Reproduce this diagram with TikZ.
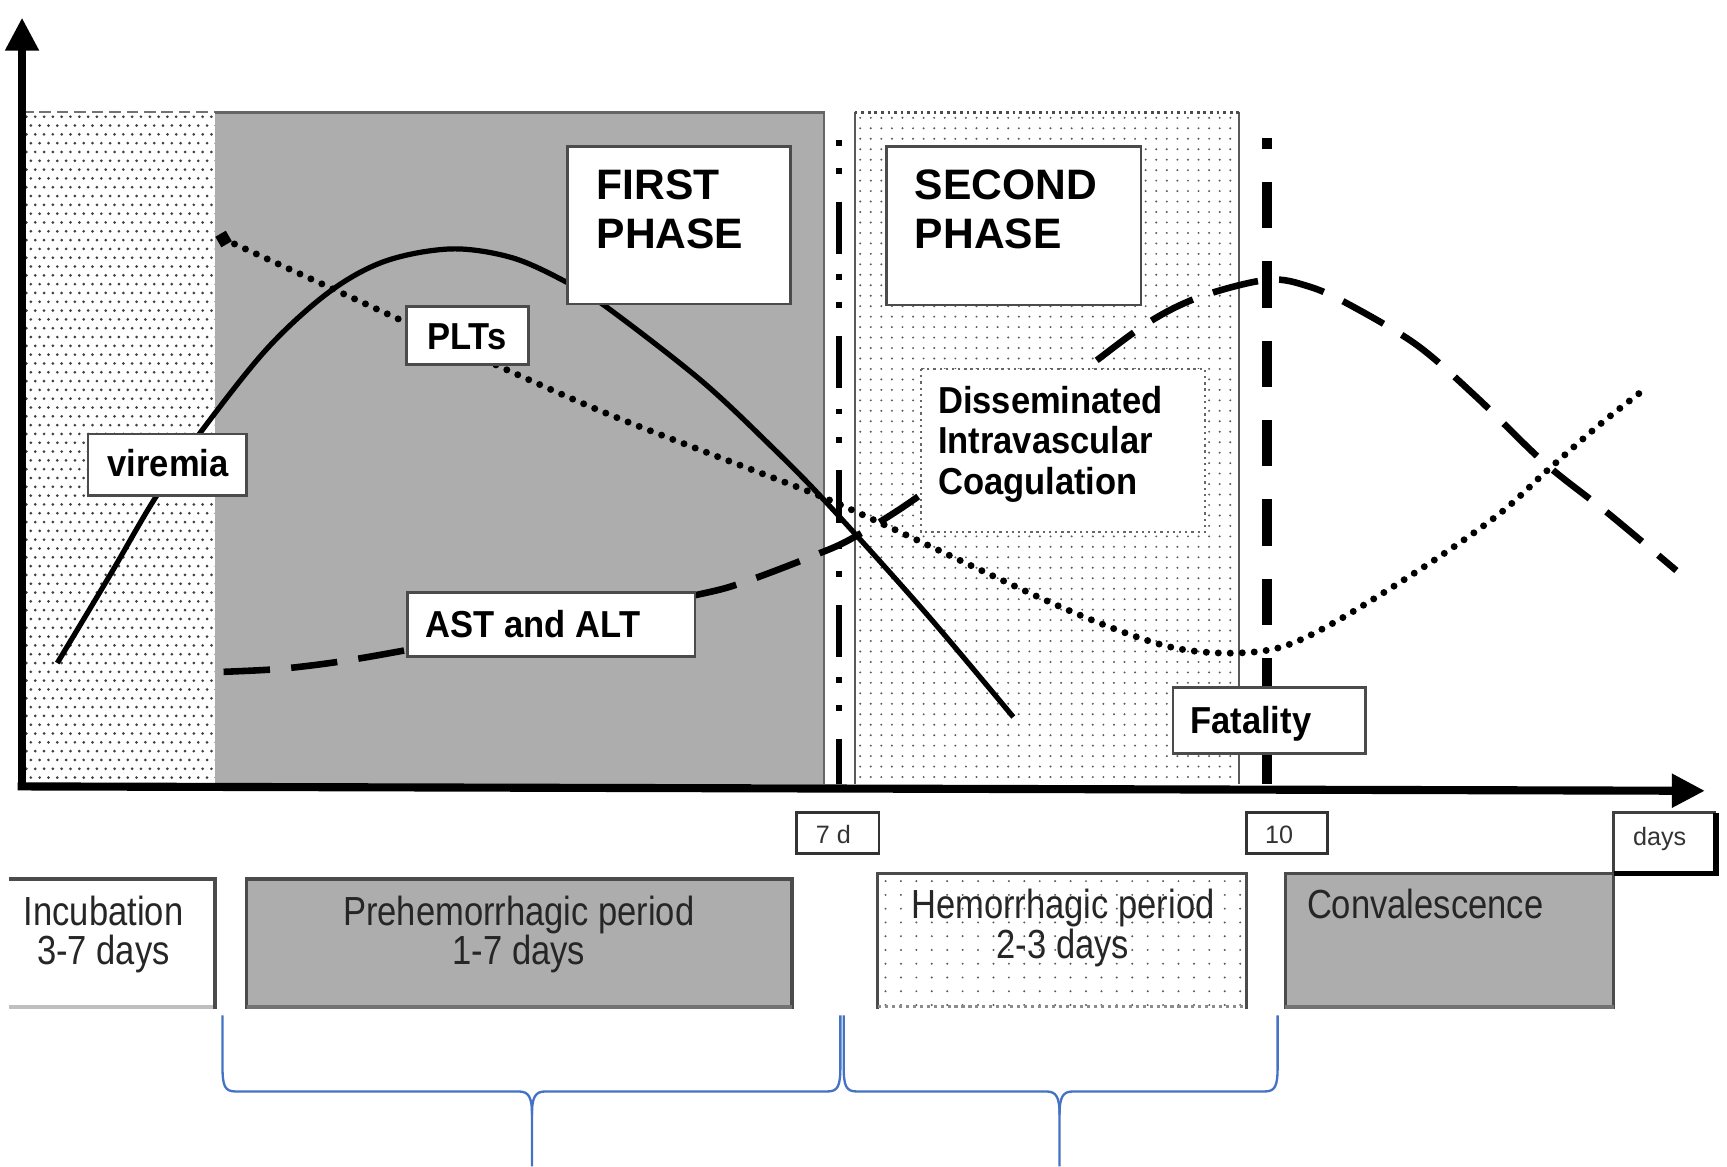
\documentclass[tikz,border=0pt]{standalone}
\usepackage{fontspec}
\setmainfont{Liberation Sans}
\newfontfamily\condfont[FakeStretch=0.85]{Liberation Sans}
\newfontfamily\labfont[FakeStretch=0.92]{Liberation Sans}
\usetikzlibrary{arrows.meta}
\definecolor{regiongray}{RGB}{173,173,173}
\definecolor{bracecol}{RGB}{68,114,196}
\definecolor{boxedge}{RGB}{75,75,75}
\begin{document}
\begin{tikzpicture}[x=0.1mm,y=-0.1mm,
  labelbox/.style={draw=boxedge, fill=white, line width=0.7pt},
  lab/.style={font={\labfont\bfseries\fontsize{9.7}{11}\selectfont}, inner sep=0pt, anchor=base west},
  phase/.style={font={\bfseries\fontsize{11}{13}\selectfont}, inner sep=0pt, anchor=base west},
  period/.style={font={\condfont\fontsize{10.5}{12}\selectfont}, inner sep=0pt, anchor=base, text=black!85},
  ticklab/.style={font={\fontsize{6.5}{8}\selectfont}, inner sep=0pt, anchor=base west, text=black!80},
  vircurve/.style={line width=1.35pt, line join=round},
  pltcurve/.style={line width=1.8pt, line cap=round, dash pattern=on 0pt off 3.1pt},
  astcurve/.style={line width=1.7pt, dash pattern=on 12pt off 5.5pt},
  axisline/.style={line width=2.1pt, -{Triangle[length=3mm,width=2.9mm]}},
  brace/.style={draw=bracecol, line width=0.6pt},
  incdot/.style={fill=black!75},
  secdot/.style={fill=black!65},
]
\useasboundingbox (0,0) rectangle (1568,1059);

% ---------- regions ----------
\fill[white] (20,102) rectangle (195,712);
\fill[incdot] \foreach \i in {0,...,21}{\foreach \j in {0,...,75}{ ({24+\i*8+mod(\j,2)*4},{106+\j*8}) circle (1.35) }};
\draw[black!55, line width=0.6pt, dash pattern=on 3pt off 1.5pt] (20,102) -- (195,102);

\fill[regiongray] (195,102) rectangle (748,712);
\draw[black!60, line width=0.7pt] (195,102) -- (748,102) -- (748,712);

\fill[white] (776,102) rectangle (1125,712);
\fill[secdot] \foreach \i in {0,...,35}{\foreach \j in {0,...,63}{ ({781+\i*9.6},{107+\j*9.5}) circle (1.0) }};
\draw[black!65, line width=0.5pt] (776,712) -- (776,102) (1125,102) -- (1125,712);
\draw[black!70, line width=0.7pt, densely dotted] (776,102) -- (1125,102);

% ---------- vertical markers ----------
\draw[line width=1.5pt, dash pattern=on 1.5pt off 5.8pt on 1.5pt off 7.2pt on 13.5pt off 5.2pt] (762,127) -- (762,712);
\draw[line width=2.6pt, dash pattern=on 12pt off 8.5pt, dash phase=9.1pt] (1150,125) -- (1150,712);

% ---------- curves ----------
\draw[vircurve] plot[smooth, tension=0.55] coordinates {(52,602) (100,522) (141,452) (184,390) (243,316) (299,265) (350,237) (410,226) (465,234) (514,256) (551,279) (636,345) (700,405) (751,457) (840,556) (920,651)};
\draw[pltcurve] plot[smooth, tension=0.55] coordinates {(203,217) (369,293) (443,328) (545,373) (650,414) (726,443) (760,457) (817,483) (947,544) (1020,574) (1070,589) (1119,593) (1165,587) (1217,562) (1300,510) (1362,466) (1405,427) (1453,385) (1495,352)};
\node[fill=black, inner sep=0pt, minimum size=1.1mm, rotate=30] (pltstart) at (203,217) {};
\draw[astcurve] plot[smooth, tension=0.55] coordinates {(203,610) (245,608) (276,605) (313,600) (365,591) (500,566) (633,540) (677,528) (740,504) (775,488) (832,452) (910,392) (988,333) (1044,292) (1091,269) (1151,254) (1188,260) (1224,276) (1286,313) (1340,360) (1402,420) (1460,466) (1522,518)};

% ---------- label boxes ----------
\draw[labelbox] (515,133) rectangle (718,276);
\draw[labelbox] (805,133) rectangle (1036,277);
\draw[labelbox] (369,278) rectangle (480,331);
\draw[labelbox] (80,394) rectangle (224,450);
\draw[labelbox] (370,538) rectangle (631,596);
\draw[fill=white, draw=black!60, line width=0.6pt, densely dotted] (836,335) rectangle (1094,483);
\draw[labelbox] (1065,624) rectangle (1240,684);

\node[phase] (first1) at (541,181) {FIRST};
\node[phase] (first2) at (541,226) {PHASE};
\node[phase] (second1) at (830,181) {SECOND};
\node[phase] (second2) at (830,226) {PHASE};
\node[lab] (plts) at (387,317) {PLTs};
\node[lab] (vir) at (97,433) {viremia};
\node[lab] (ast) at (386,579) {AST and ALT};
\node[lab] (dic1) at (851,375) {Disseminated};
\node[lab] (dic2) at (851,412) {Intravascular};
\node[lab] (dic3) at (851,449) {Coagulation};
\node[lab] (fat) at (1080,666) {Fatality};

% ---------- axes ----------
\coordinate (origin) at (16,714);
\coordinate (xend) at (1548,718);
\coordinate (ybot) at (20,716);
\coordinate (ytop) at (20,16);
\draw[axisline] (origin) -- (xend);
\draw[axisline] (ybot) -- (ytop);

% ---------- tick boxes ----------
\draw[labelbox, draw=black!80] (723,738) rectangle (798,775);
\draw[labelbox, draw=black!80] (1132,738) rectangle (1205,775);
\node[ticklab] (t7) at (740,766) {7 d};
\node[ticklab] (t10) at (1148,766) {10};

% ---------- period boxes ----------
\fill[white] (8,798) rectangle (195,916);
\draw[boxedge, line width=0.9pt] (8,798) -- (195,798) -- (195,916);
\draw[black!25, line width=1pt] (8,914) -- (193,914);

\fill[regiongray] (224,798) rectangle (719,916);
\draw[boxedge, line width=0.9pt] (224,916) -- (224,798) -- (719,798) -- (719,916);
\draw[black!55, line width=1pt] (224,914) -- (719,914);

\fill[white] (797,793) rectangle (1132,916);
\fill[secdot] \foreach \i in {0,...,23}{\foreach \j in {0,...,9}{ ({804+\i*14},{800+\j*12.5}) circle (1.0) }};
\draw[boxedge, line width=0.8pt] (797,916) -- (797,793) -- (1132,793) -- (1132,916);
\draw[black!45, line width=0.8pt, densely dotted] (797,914) -- (1132,914);

\fill[regiongray] (1167,793) rectangle (1465,916);
\draw[boxedge, line width=0.9pt] (1167,916) -- (1167,793) -- (1465,793) -- (1465,916);
\draw[black!55, line width=1pt] (1167,914) -- (1465,914);

\fill[white] (1465,738) rectangle (1558,793);
\draw[black!75, line width=0.7pt] (1465,793) -- (1465,738) -- (1558,738);
\draw[black, line width=1.3pt] (1558,738) -- (1558,793) -- (1465,793);
\node[ticklab] (tdays) at (1482,768) {days};

\node[period] (inc1) at (94,840) {Incubation};
\node[period] (inc2) at (94,876) {3-7 days};
\node[period] (pre1) at (471,840) {Prehemorrhagic period};
\node[period] (pre2) at (471,876) {1-7 days};
\node[period] (hem1) at (965,834) {Hemorrhagic period};
\node[period] (hem2) at (965,870) {2-3 days};
\node[period, anchor=base west] (conv) at (1186,834) {Convalescence};

% ---------- braces ----------
\draw[brace] (202,922) -- (202,968) .. controls (202,986) and (204,991) .. (214,991) -- (471,991) .. controls (480,991) and (483,996) .. (483,1012) -- (483,1059);
\draw[brace] (483,1012) .. controls (483,996) and (486,991) .. (495,991) -- (751,991) .. controls (761,991) and (763,986) .. (763,968) -- (763,922);
\draw[brace] (766,922) -- (766,968) .. controls (766,986) and (768,991) .. (778,991) -- (950,991) .. controls (959,991) and (962,996) .. (962,1012) -- (962,1059);
\draw[brace] (962,1012) .. controls (962,996) and (965,991) .. (974,991) -- (1148,991) .. controls (1158,991) and (1160,986) .. (1160,968) -- (1160,922);
\end{tikzpicture}
\end{document}
